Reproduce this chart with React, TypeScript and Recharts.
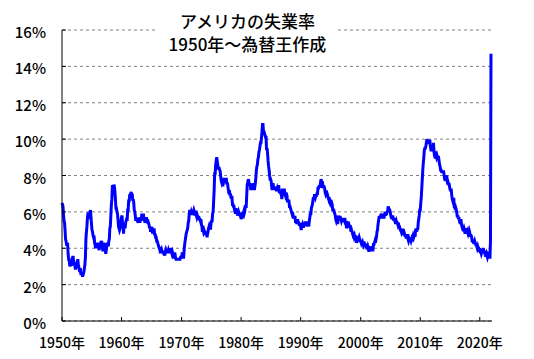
import React from 'react';
import { LineChart, Line, XAxis, YAxis, CartesianGrid } from 'recharts';

// monthly unemployment rate (%), Jan 1950 .. Apr 2020
const u1950s = [
  6.5, 6.4, 6.3, 5.8, 5.5, 5.4, 5.0, 4.5, 4.4, 4.2, 4.2, 4.3,
  3.7, 3.4, 3.4, 3.1, 3.0, 3.2, 3.1, 3.1, 3.3, 3.5, 3.5, 3.1,
  3.2, 3.1, 2.9, 2.9, 3.0, 3.0, 3.2, 3.4, 3.1, 3.0, 2.8, 2.7,
  2.9, 2.6, 2.6, 2.7, 2.5, 2.5, 2.6, 2.7, 2.9, 3.1, 3.5, 4.5,
  4.9, 5.2, 5.7, 5.9, 5.9, 5.6, 5.8, 6.0, 6.1, 5.7, 5.3, 5.0,
  4.9, 4.7, 4.6, 4.7, 4.3, 4.2, 4.0, 4.2, 4.1, 4.3, 4.2, 4.2,
  4.0, 3.9, 4.2, 4.0, 4.3, 4.3, 4.4, 4.1, 3.9, 3.9, 4.3, 4.2,
  4.2, 3.9, 3.7, 3.9, 4.1, 4.3, 4.2, 4.1, 4.4, 4.5, 5.1, 5.2,
  5.8, 6.4, 6.7, 7.4, 7.4, 7.3, 7.5, 7.4, 7.1, 6.7, 6.2, 6.2,
  6.0, 5.9, 5.6, 5.2, 5.1, 5.0, 5.1, 5.2, 5.5, 5.7, 5.8, 5.3,
];
const u1960s = [
  5.2, 4.8, 5.4, 5.2, 5.1, 5.4, 5.5, 5.6, 5.5, 6.1, 6.1, 6.6,
  6.6, 6.9, 6.9, 7.0, 7.1, 6.9, 7.0, 6.6, 6.7, 6.5, 6.1, 6.0,
  5.8, 5.5, 5.6, 5.6, 5.5, 5.5, 5.4, 5.7, 5.6, 5.4, 5.7, 5.5,
  5.7, 5.9, 5.7, 5.7, 5.9, 5.6, 5.6, 5.4, 5.5, 5.5, 5.7, 5.5,
  5.6, 5.4, 5.4, 5.3, 5.1, 5.2, 4.9, 5.0, 5.1, 5.1, 4.8, 5.0,
  4.9, 5.1, 4.7, 4.8, 4.6, 4.6, 4.4, 4.4, 4.3, 4.2, 4.1, 4.0,
  4.0, 3.8, 3.8, 3.8, 3.9, 3.8, 3.8, 3.8, 3.7, 3.7, 3.6, 3.8,
  3.9, 3.8, 3.8, 3.8, 3.8, 3.9, 3.8, 3.8, 3.8, 4.0, 3.9, 3.8,
  3.7, 3.8, 3.7, 3.5, 3.5, 3.7, 3.7, 3.5, 3.4, 3.4, 3.4, 3.4,
  3.4, 3.4, 3.4, 3.4, 3.4, 3.5, 3.5, 3.5, 3.7, 3.7, 3.5, 3.5,
];
const u1970s = [
  3.9, 4.2, 4.4, 4.6, 4.8, 4.9, 5.0, 5.1, 5.4, 5.5, 5.9, 6.1,
  5.9, 5.9, 6.0, 5.9, 5.9, 5.9, 6.0, 6.1, 6.0, 5.8, 6.0, 6.0,
  5.8, 5.7, 5.8, 5.7, 5.7, 5.7, 5.6, 5.6, 5.5, 5.6, 5.3, 5.2,
  4.9, 5.0, 4.9, 5.0, 4.9, 4.9, 4.8, 4.8, 4.8, 4.6, 4.8, 4.9,
  5.1, 5.2, 5.1, 5.1, 5.1, 5.4, 5.5, 5.5, 5.9, 6.0, 6.6, 7.2,
  8.1, 8.1, 8.6, 8.8, 9.0, 8.8, 8.6, 8.4, 8.4, 8.4, 8.3, 8.2,
  7.9, 7.7, 7.6, 7.7, 7.4, 7.6, 7.8, 7.8, 7.6, 7.7, 7.8, 7.8,
  7.5, 7.6, 7.4, 7.2, 7.0, 7.2, 6.9, 7.0, 6.8, 6.8, 6.8, 6.4,
  6.4, 6.3, 6.3, 6.1, 6.0, 5.9, 6.2, 5.9, 6.0, 5.8, 5.9, 6.0,
  5.9, 5.9, 5.8, 5.8, 5.6, 5.7, 5.7, 6.0, 5.9, 6.0, 5.9, 6.0,
];
const u1980s = [
  6.3, 6.3, 6.3, 6.9, 7.5, 7.6, 7.8, 7.7, 7.5, 7.5, 7.5, 7.2,
  7.5, 7.4, 7.4, 7.2, 7.5, 7.5, 7.2, 7.4, 7.6, 7.9, 8.3, 8.5,
  8.6, 8.9, 9.0, 9.3, 9.4, 9.6, 9.8, 9.8, 10.1, 10.4, 10.8, 10.8,
  10.4, 10.4, 10.3, 10.2, 10.1, 10.1, 9.4, 9.5, 9.2, 8.8, 8.5, 8.3,
  8.0, 7.8, 7.8, 7.7, 7.4, 7.2, 7.5, 7.5, 7.3, 7.4, 7.2, 7.3,
  7.3, 7.2, 7.2, 7.3, 7.2, 7.4, 7.4, 7.1, 7.1, 7.1, 7.0, 7.0,
  6.7, 7.2, 7.2, 7.1, 7.2, 7.2, 7.0, 6.9, 7.0, 7.0, 6.9, 6.6,
  6.6, 6.6, 6.6, 6.3, 6.3, 6.2, 6.1, 6.0, 5.9, 6.0, 5.8, 5.7,
  5.7, 5.7, 5.7, 5.4, 5.6, 5.4, 5.4, 5.6, 5.4, 5.4, 5.3, 5.3,
  5.4, 5.2, 5.0, 5.2, 5.2, 5.3, 5.2, 5.2, 5.3, 5.3, 5.4, 5.4,
];
const u1990s = [
  5.4, 5.3, 5.2, 5.4, 5.4, 5.2, 5.5, 5.7, 5.9, 5.9, 6.2, 6.3,
  6.4, 6.6, 6.8, 6.7, 6.9, 6.9, 6.8, 6.9, 6.9, 7.0, 7.0, 7.3,
  7.3, 7.4, 7.4, 7.4, 7.6, 7.8, 7.7, 7.6, 7.6, 7.3, 7.4, 7.4,
  7.3, 7.1, 7.0, 7.1, 7.1, 7.0, 6.9, 6.8, 6.7, 6.8, 6.6, 6.5,
  6.6, 6.6, 6.5, 6.4, 6.1, 6.1, 6.1, 6.0, 5.9, 5.8, 5.6, 5.5,
  5.6, 5.4, 5.4, 5.8, 5.6, 5.6, 5.7, 5.7, 5.6, 5.5, 5.6, 5.6,
  5.6, 5.5, 5.5, 5.6, 5.6, 5.3, 5.5, 5.1, 5.2, 5.2, 5.4, 5.4,
  5.3, 5.2, 5.2, 5.1, 4.9, 5.0, 4.9, 4.8, 4.9, 4.7, 4.6, 4.7,
  4.6, 4.6, 4.7, 4.3, 4.4, 4.5, 4.5, 4.5, 4.6, 4.5, 4.4, 4.4,
  4.3, 4.4, 4.2, 4.3, 4.2, 4.3, 4.3, 4.2, 4.2, 4.1, 4.1, 4.0,
];
const u2000s = [
  4.0, 4.1, 4.0, 3.8, 4.0, 4.0, 4.0, 4.1, 3.9, 3.9, 3.9, 3.9,
  4.2, 4.2, 4.3, 4.4, 4.3, 4.5, 4.6, 4.9, 5.0, 5.3, 5.5, 5.7,
  5.7, 5.7, 5.7, 5.9, 5.8, 5.8, 5.8, 5.7, 5.7, 5.7, 5.9, 6.0,
  5.8, 5.9, 5.9, 6.0, 6.1, 6.3, 6.2, 6.1, 6.1, 6.0, 5.8, 5.7,
  5.7, 5.6, 5.8, 5.6, 5.6, 5.6, 5.5, 5.4, 5.4, 5.5, 5.4, 5.4,
  5.3, 5.4, 5.2, 5.2, 5.1, 5.0, 5.0, 4.9, 5.0, 5.0, 5.0, 4.9,
  4.7, 4.8, 4.7, 4.7, 4.6, 4.6, 4.7, 4.7, 4.5, 4.4, 4.5, 4.4,
  4.6, 4.5, 4.4, 4.5, 4.4, 4.6, 4.7, 4.6, 4.7, 4.7, 4.7, 5.0,
  5.0, 4.9, 5.1, 5.0, 5.4, 5.6, 5.8, 6.1, 6.1, 6.5, 6.8, 7.3,
  7.8, 8.3, 8.7, 9.0, 9.4, 9.5, 9.5, 9.6, 9.8, 10.0, 9.9, 9.9,
];
const u2010s = [
  9.8, 9.8, 9.9, 9.9, 9.6, 9.4, 9.4, 9.5, 9.5, 9.4, 9.8, 9.3,
  9.1, 9.0, 9.0, 9.1, 9.0, 9.1, 9.0, 9.0, 9.0, 8.8, 8.6, 8.5,
  8.3, 8.3, 8.2, 8.2, 8.2, 8.2, 8.2, 8.0, 7.8, 7.8, 7.7, 7.9,
  8.0, 7.7, 7.5, 7.6, 7.5, 7.5, 7.3, 7.2, 7.2, 7.2, 6.9, 6.7,
  6.6, 6.7, 6.7, 6.2, 6.3, 6.1, 6.2, 6.1, 5.9, 5.7, 5.8, 5.6,
  5.7, 5.5, 5.4, 5.4, 5.6, 5.3, 5.2, 5.1, 5.0, 5.0, 5.1, 5.0,
  4.8, 4.9, 5.0, 5.1, 4.8, 4.9, 4.8, 4.9, 5.0, 4.9, 4.7, 4.7,
  4.7, 4.6, 4.4, 4.4, 4.4, 4.3, 4.3, 4.4, 4.3, 4.2, 4.2, 4.1,
  4.0, 4.1, 4.0, 4.0, 3.8, 4.0, 3.8, 3.8, 3.7, 3.8, 3.8, 3.9,
  4.0, 3.8, 3.8, 3.7, 3.6, 3.6, 3.7, 3.6, 3.5, 3.6, 3.5, 3.5,
];
const u2020 = [3.5, 3.5, 4.4, 14.7];

// category positions of the year labels on the x axis
const xTickIdx = [0, 117, 235, 352, 469, 587, 704, 821];
const xTickLabels = ['1950年', '1960年', '1970年', '1980年', '1990年', '2000年', '2010年', '2020年'];
const yTicks = [0, 2, 4, 6, 8, 10, 12, 14, 16];

const data = [...u1950s, ...u1960s, ...u1970s, ...u1980s, ...u1990s, ...u2000s, ...u2010s, ...u2020].map(
  (v, i) => ({ i, v })
);

const FONT = '"Noto Sans CJK JP", "Noto Sans", sans-serif';

const YTick = (props: any) => {
  const { x, y, payload } = props;
  return (
    <g>
      <line x1={x} x2={x + 4} y1={y} y2={y} stroke="#000" />
      <text x={x - 16} y={y + 8} textAnchor="end" fontSize={15} fontWeight={500} fill="#000" fontFamily={FONT}>
        {payload.value}%
      </text>
    </g>
  );
};

const XTick = (props: any) => {
  const { x, y, payload } = props;
  const label = xTickLabels[xTickIdx.indexOf(payload.value)];
  return (
    <g>
      <line x1={x} x2={x} y1={y - 4} y2={y} stroke="#000" />
      <text x={x} y={y + 27} textAnchor="middle" fontSize={14} fontWeight={500} fill="#000" fontFamily={FONT}>
        {label}
      </text>
    </g>
  );
};

export default function App() {
  return (
    <div style={{ position: 'relative', width: 534, height: 359, background: '#fff', fontFamily: FONT }}>
      <style>{'body{margin:0}'}</style>
      <LineChart width={534} height={359} data={data} margin={{ top: 30, right: 42, bottom: 0, left: 0 }}>
        <CartesianGrid vertical={false} stroke="#808080" strokeDasharray="3 3" />
        <XAxis
          dataKey="i"
          type="number"
          domain={[0, 845]}
          ticks={xTickIdx}
          interval={0}
          height={38}
          tickSize={0}
          tickMargin={0}
          tickLine={false}
          axisLine={{ stroke: '#000' }}
          tick={<XTick />}
        />
        <YAxis
          type="number"
          domain={[0, 16]}
          ticks={yTicks}
          interval={0}
          width={62}
          tickSize={0}
          tickMargin={0}
          tickLine={false}
          axisLine={{ stroke: '#000' }}
          tick={<YTick />}
        />
        <Line
          type="linear"
          dataKey="v"
          stroke="#0000FF"
          strokeWidth={3}
          dot={false}
          isAnimationActive={false}
        />
      </LineChart>
      <div
        style={{
          position: 'absolute',
          left: 158,
          top: 9,
          width: 179,
          background: '#fff',
          textAlign: 'center',
          fontSize: 17,
          fontWeight: 500,
          lineHeight: '23px',
          color: '#000',
        }}
      >
        <div>アメリカの失業率</div>
        <div style={{ whiteSpace: 'nowrap' }}>1950年～為替王作成</div>
      </div>
    </div>
  );
}
